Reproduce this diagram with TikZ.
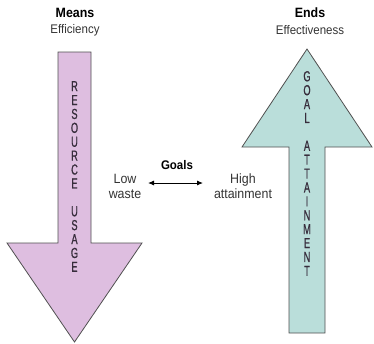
\documentclass[tikz,border=0pt]{standalone}
\usepackage{fontspec}
\setmainfont{Liberation Sans}[FakeStretch=0.92]
\newfontfamily\narrowfont{Liberation Sans}[FakeStretch=0.64,FakeBold=0.8]
\usepackage{tikz}
\usetikzlibrary{arrows.meta}

\definecolor{meansfill}{RGB}{222,190,224}
\definecolor{endsfill}{RGB}{186,222,218}
\definecolor{edgegray}{RGB}{80,80,80}
\definecolor{lettergray}{RGB}{55,45,60}

\tikzset{
	bigarrow/.style={draw=edgegray,line width=0.8pt,line join=miter},
	title/.style={font=\fontsize{13.5}{15}\selectfont\bfseries},
	subtitle/.style={font=\fontsize{12.5}{14}\selectfont,text=black!80},
	letters/.style={align=center,font=\narrowfont\fontsize{14.5}{13.9}\selectfont,text=lettergray},
	side/.style={align=center,font=\fontsize{13.5}{15}\selectfont,text=black!80}
}

\begin{document}
\begin{tikzpicture}[x=1pt,y=-1pt]
	\useasboundingbox (0,0) rectangle (374,343);
	% means arrow, pointing down
	\draw[bigarrow,fill=meansfill] (58,52) -- (91,52) -- (91,243) -- (142,243) -- (74.5,342) -- (7,243) -- (58,243) -- cycle;
	% ends arrow, pointing up
	\draw[bigarrow,fill=endsfill] (289,333) -- (325,333) -- (325,147) -- (372,147) -- (307,49) -- (242,147) -- (289,147) -- cycle;
	\path (75,13) node [title] (means) {Means};
	\path (75,30) node [subtitle] (efficiency) {Efficiency};
	\path (310,13) node [title] (ends) {Ends};
	\path (310,30) node [subtitle] (effectiveness) {Effectiveness};
	\path (74.5,176.5) node [letters] (usage) {R\\E\\S\\O\\U\\R\\C\\E\\{}\\U\\S\\A\\G\\E};
	\path (307,173.5) node [letters] (attain) {G\\O\\A\\L\\{}\\A\\T\\T\\A\\I\\N\\M\\E\\N\\T};
	\path (177,165) node [title,font=\fontsize{12.5}{14}\selectfont\bfseries] (goals) {Goals};
	\path (125,186) node [side] (low) {Low\\waste};
	\path (243,186) node [side] (high) {High\\attainment};
	\coordinate (lowend) at (148,183);
	\coordinate (highend) at (203,183);
	\draw[{Latex[length=6pt,width=5pt]}-{Latex[length=6pt,width=5pt]},line width=0.9pt] (lowend) -- (highend);
\end{tikzpicture}
\end{document}
